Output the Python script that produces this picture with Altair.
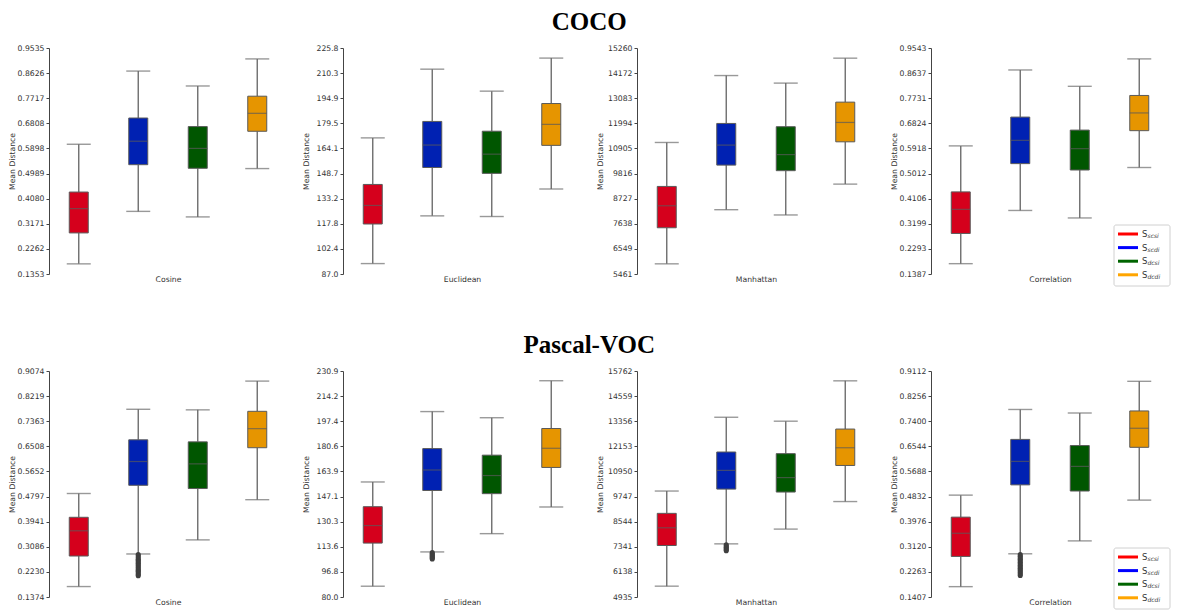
import altair as alt
import pandas as pd

groups = ["scsi", "scdi", "dcsi", "dcdi"]
box_colors = ["#d5001c", "#0021b2", "#005600", "#e69500"]
legend_colors = ["#ff0000", "#0000ff", "#006400", "#ffa500"]
metrics = ["Cosine", "Euclidean", "Manhattan", "Correlation"]
datasets = ["COCO", "Pascal-VOC"]

# per group: [lower whisker, q1, median, q3, upper whisker]
coco_cosine = [[0.172, 0.284, 0.372, 0.432, 0.605], [0.362, 0.531, 0.616, 0.700, 0.870],
               [0.342, 0.518, 0.590, 0.669, 0.816], [0.517, 0.652, 0.717, 0.779, 0.914]]
coco_euclidean = [[93.4, 117.7, 129.1, 142.0, 170.6], [122.7, 152.4, 166.2, 180.7, 212.8],
                  [122.3, 148.8, 160.6, 174.7, 199.3], [139.2, 166.0, 178.9, 191.7, 219.6]]
coco_manhattan = [[5902, 7466, 8419, 9258, 11164], [8249, 10183, 11050, 11989, 14065],
                  [8021, 9941, 10638, 11847, 13738], [9358, 11192, 12032, 12913, 14819]]
coco_correlation = [[0.176, 0.285, 0.372, 0.435, 0.601], [0.368, 0.537, 0.621, 0.705, 0.875],
                    [0.341, 0.514, 0.591, 0.658, 0.816], [0.523, 0.656, 0.720, 0.783, 0.915]]

pascal_cosine = [[0.173, 0.277, 0.363, 0.409, 0.490], [0.284, 0.518, 0.599, 0.673, 0.777],
                 [0.332, 0.507, 0.591, 0.666, 0.775], [0.469, 0.646, 0.711, 0.770, 0.873]]
pascal_euclidean = [[87.2, 116.0, 127.7, 140.3, 156.8], [110.1, 151.1, 164.8, 179.1, 203.8],
                    [122.3, 149.0, 161.1, 174.7, 199.7], [140.1, 166.5, 179.3, 192.5, 224.4]]
pascal_manhattan = [[5454, 7402, 8251, 8942, 10011], [7481, 10105, 11001, 11881, 13546],
                    [8188, 9963, 10655, 11802, 13358], [9508, 11236, 12085, 12981, 15291]]
pascal_correlation = [[0.176, 0.279, 0.358, 0.413, 0.488], [0.288, 0.523, 0.603, 0.678, 0.780],
                      [0.332, 0.502, 0.586, 0.657, 0.768], [0.471, 0.651, 0.716, 0.775, 0.876]]

# outliers of the scdi group (Pascal-VOC)
pascal_cosine_out = [0.282, 0.277, 0.271, 0.266, 0.262, 0.257, 0.252, 0.247, 0.243, 0.238,
                     0.233, 0.228, 0.224, 0.219, 0.214, 0.210]
pascal_euclidean_out = [109.6, 108.9, 108.1, 107.4, 106.7, 106.0, 105.4]
pascal_manhattan_out = [7440, 7380, 7320, 7260, 7200, 7150]
pascal_correlation_out = [0.285, 0.280, 0.274, 0.269, 0.264, 0.259, 0.254, 0.249, 0.244,
                          0.239, 0.234, 0.229, 0.224, 0.219, 0.214]

# y tick labels
coco_cosine_ticks = ["0.1353", "0.2262", "0.3171", "0.4080", "0.4989", "0.5898", "0.6808", "0.7717", "0.8626", "0.9535"]
coco_euclidean_ticks = ["87.0", "102.4", "117.8", "133.2", "148.7", "164.1", "179.5", "194.9", "210.3", "225.8"]
coco_manhattan_ticks = ["5461", "6549", "7638", "8727", "9816", "10905", "11994", "13083", "14172", "15260"]
coco_correlation_ticks = ["0.1387", "0.2293", "0.3199", "0.4106", "0.5012", "0.5918", "0.6824", "0.7731", "0.8637", "0.9543"]
pascal_cosine_ticks = ["0.1374", "0.2230", "0.3086", "0.3941", "0.4797", "0.5652", "0.6508", "0.7363", "0.8219", "0.9074"]
pascal_euclidean_ticks = ["80.0", "96.8", "113.6", "130.3", "147.1", "163.9", "180.6", "197.4", "214.2", "230.9"]
pascal_manhattan_ticks = ["4935", "6138", "7341", "8544", "9747", "10950", "12153", "13356", "14559", "15762"]
pascal_correlation_ticks = ["0.1407", "0.2263", "0.3120", "0.3976", "0.4832", "0.5688", "0.6544", "0.7400", "0.8256", "0.9112"]

W, H = 238, 226
GRAY = "#6e6e6e"
EDGE = "#5a5a5a"
FONT = "DejaVu Sans"


def panel(stats, ticks, metric, outliers=None, legend=False):
    df = pd.DataFrame({
        "group": groups,
        "lo": [s[0] for s in stats], "q1": [s[1] for s in stats],
        "med": [s[2] for s in stats], "q3": [s[3] for s in stats],
        "hi": [s[4] for s in stats],
    })
    tvals = [float(t) for t in ticks]
    fmt = f".{len(ticks[0].split('.')[1])}f" if "." in ticks[0] else "d"
    yscale = alt.Scale(domain=[tvals[0], tvals[-1]], nice=False, zero=False)
    yaxis = alt.Axis(values=tvals, format=fmt,
                     title="Mean Distance", grid=False, tickSize=3, labelPadding=2,
                     minExtent=30, maxExtent=30, titlePadding=3)
    xaxis = alt.Axis(labels=False, ticks=False, domain=False, title=metric, titlePadding=1)
    xscale = alt.Scale(domain=groups, paddingInner=0, paddingOuter=0)

    def X():
        return alt.X("group:N", scale=xscale, axis=xaxis)

    def Y(f):
        return alt.Y(f"{f}:Q", scale=yscale, axis=yaxis)

    base = alt.Chart(df)
    layers = [
        base.mark_rule(color=GRAY, strokeWidth=1.4).encode(x=X(), y=Y("lo"), y2="q1:Q"),
        base.mark_rule(color=GRAY, strokeWidth=1.4).encode(x=X(), y=Y("q3"), y2="hi:Q"),
        base.mark_tick(size=24, thickness=1.4, color=GRAY).encode(x=X(), y=Y("lo")),
        base.mark_tick(size=24, thickness=1.4, color=GRAY).encode(x=X(), y=Y("hi")),
        base.mark_bar(size=19, stroke=EDGE, strokeWidth=1).encode(
            x=X(), y=Y("q1"), y2="q3:Q",
            color=alt.Color("group:N", scale=alt.Scale(domain=groups, range=box_colors), legend=None)),
        base.mark_tick(size=19, thickness=1.2, color=EDGE).encode(x=X(), y=Y("med")),
    ]
    if outliers:
        odf = pd.DataFrame({"group": [groups[1]] * len(outliers), "v": outliers})
        layers.append(alt.Chart(odf).mark_circle(size=26, color="#3f3f3f", opacity=1).encode(x=X(), y=Y("v")))
    if legend:
        one = pd.DataFrame({"k": [0]})
        layers.append(alt.Chart(one).mark_rect(fill="white", stroke="#d0d0d0", strokeWidth=1, cornerRadius=2).encode(
            x=alt.value(183), x2=alt.value(239), y=alt.value(177), y2=alt.value(238)))
        for i, (g, c) in enumerate(zip(groups, legend_colors)):
            yy = 186 + i * 13.6
            layers.append(alt.Chart(one).mark_rule(color=c, strokeWidth=3).encode(
                x=alt.value(187), x2=alt.value(207), y=alt.value(yy)))
            layers.append(alt.Chart(one).mark_text(text="S", align="left", baseline="middle", fontSize=8.5,
                                                   font=FONT, color="#333").encode(
                x=alt.value(211), y=alt.value(yy)))
            layers.append(alt.Chart(one).mark_text(text=g, align="left", baseline="middle", fontSize=6,
                                                   fontStyle="italic", font=FONT, color="#333").encode(
                x=alt.value(216.5), y=alt.value(yy + 2)))
    return alt.layer(*layers).properties(width=W, height=H)


def row(title, panels):
    return alt.hconcat(*panels, spacing=15).properties(
        title=alt.TitleParams(title, font="Liberation Serif", fontSize=25, fontWeight="bold",
                              anchor="middle", color="black", offset=9))


row1 = row("COCO", [
    panel(coco_cosine, coco_cosine_ticks, metrics[0]),
    panel(coco_euclidean, coco_euclidean_ticks, metrics[1]),
    panel(coco_manhattan, coco_manhattan_ticks, metrics[2]),
    panel(coco_correlation, coco_correlation_ticks, metrics[3], legend=True),
])
row2 = row("Pascal-VOC", [
    panel(pascal_cosine, pascal_cosine_ticks, metrics[0], pascal_cosine_out),
    panel(pascal_euclidean, pascal_euclidean_ticks, metrics[1], pascal_euclidean_out),
    panel(pascal_manhattan, pascal_manhattan_ticks, metrics[2], pascal_manhattan_out),
    panel(pascal_correlation, pascal_correlation_ticks, metrics[3], pascal_correlation_out, legend=True),
])

chart = alt.vconcat(row1, row2, spacing=46).configure_view(stroke=None).configure_axis(
    labelFont=FONT, labelFontSize=7.7, labelColor="#333", titleFont=FONT, titleFontSize=7.7,
    titleFontWeight="normal", titleColor="#333", domainColor="#444", tickColor="#444",
    domainWidth=1, tickWidth=1,
).properties(padding={"top": 2, "left": 0, "right": 0, "bottom": 0}, background="white")

chart.save("out.html", embed_options={"renderer": "svg", "actions": False})
